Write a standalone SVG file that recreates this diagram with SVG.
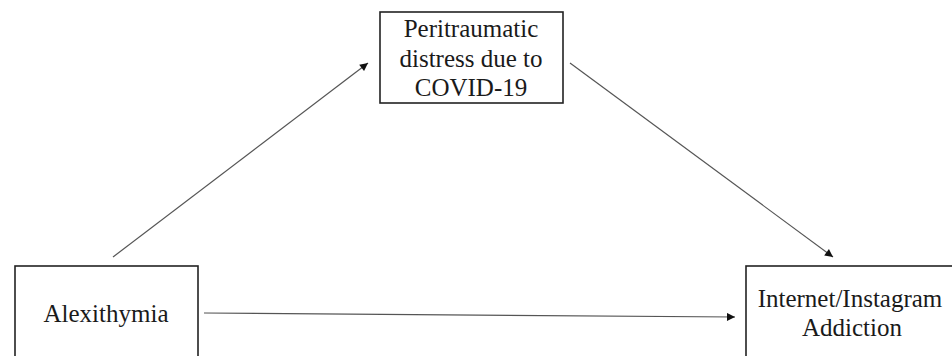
<svg xmlns="http://www.w3.org/2000/svg" width="952" height="356" viewBox="0 0 952 356">
<defs>
<style>
.box{fill:#fff;stroke:#222;stroke-width:1.6}
.lbl{font-family:"Liberation Serif","Times New Roman",serif;font-size:25px;fill:#1a1a1a;text-anchor:middle}
.edge{stroke:#555;stroke-width:1.2;fill:none;marker-end:url(#ah)}
</style>
<marker id="ah" viewBox="0 0 10 10" refX="10" refY="5" markerWidth="10" markerHeight="8" markerUnits="userSpaceOnUse" orient="auto">
<path d="M0,0 L10,5 L0,10 z" fill="#111"/>
</marker>
</defs>
<rect width="952" height="356" fill="#fff"/>
<g id="connectors">
<line class="edge" x1="113" y1="257" x2="368" y2="63"/>
<line class="edge" x1="570" y1="63" x2="833" y2="257"/>
<line class="edge" x1="204" y1="313" x2="735" y2="317"/>
</g>
<g id="mediator">
<rect class="box" x="380" y="12" width="183" height="91"/>
<text class="lbl" x="471" y="37">Peritraumatic</text>
<text class="lbl" x="471" y="67">distress due to</text>
<text class="lbl" x="471" y="96">COVID-19</text>
</g>
<g id="alexithymia">
<rect class="box" x="15" y="266" width="183" height="94"/>
<text class="lbl" x="106" y="322">Alexithymia</text>
</g>
<g id="addiction">
<rect class="box" x="746" y="266" width="212" height="94"/>
<text class="lbl" x="850" y="307">Internet/Instagram</text>
<text class="lbl" x="852" y="336">Addiction</text>
</g>
</svg>
